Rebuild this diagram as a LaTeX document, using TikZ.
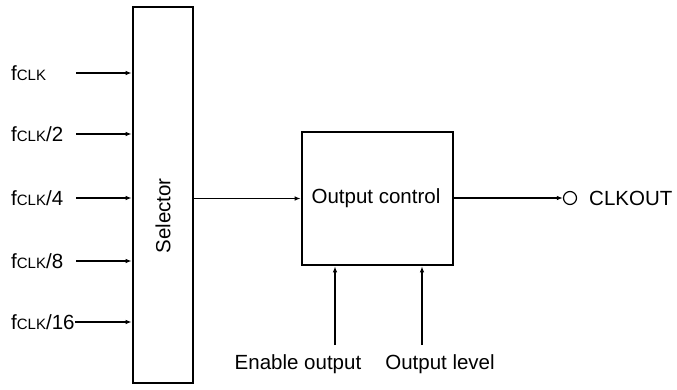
\documentclass[tikz,border=0pt]{standalone}
\usepackage{fontspec}
\setmainfont{Liberation Sans}
\usetikzlibrary{arrows.meta}
\begin{document}
\begin{tikzpicture}[x=1pt,y=-1pt,
  blk/.style={draw,line width=2.6pt,inner sep=0pt},
  conn/.style={line width=1.2pt,-{Latex[length=6pt,width=4.5pt]}},
  lbl/.style={font=\fontsize{20.5}{24}\selectfont,inner sep=0pt},
  inlbl/.style={lbl,anchor=west}]
\useasboundingbox (0,0) rectangle (677,389);
\node[blk,minimum width=60pt,minimum height=376pt] (sel) at (163,195) {};
\node[lbl,rotate=90] (seltxt) at (163,216) {Selector};
\node[blk,minimum width=151pt,minimum height=133pt] (oc) at (377.5,198.5) {};
\node[lbl] (octxt) at (376,198) {Output control};
\foreach \y/\t/\n in {73/{}/a,134/{/2}/b,198/{/4}/c,261/{/8}/d,322/{/16}/e}{
  \node[inlbl] (l\n) at (11,\y) {f{\fontsize{15}{18}\selectfont CLK}\t};
  \coordinate (s\n) at (76,\y);
}
\foreach \n in {a,b,c,d}{
  \draw[conn] (s\n) -- (s\n -| sel.west);
}
\draw[conn] (le.east) -- (le.east -| sel.west);
\draw[conn] (sel.east |- oc.west) -- (oc.west);
\node[draw,circle,line width=1.2pt,minimum size=13pt,inner sep=0pt] (out) at (570,198) {};
\draw[conn] (oc.east |- out) -- (out.west);
\node[lbl,anchor=west] (clk) at (589,198) {CLKOUT};
\node[lbl] (en) at (298,364) {Enable output};
\node[lbl] (lv) at (440,364) {Output level};
\coordinate (ea) at (335,345);
\coordinate (la) at (422,345);
\draw[conn] (ea) -- (ea |- oc.south);
\draw[conn] (la) -- (la |- oc.south);
\end{tikzpicture}
\end{document}
